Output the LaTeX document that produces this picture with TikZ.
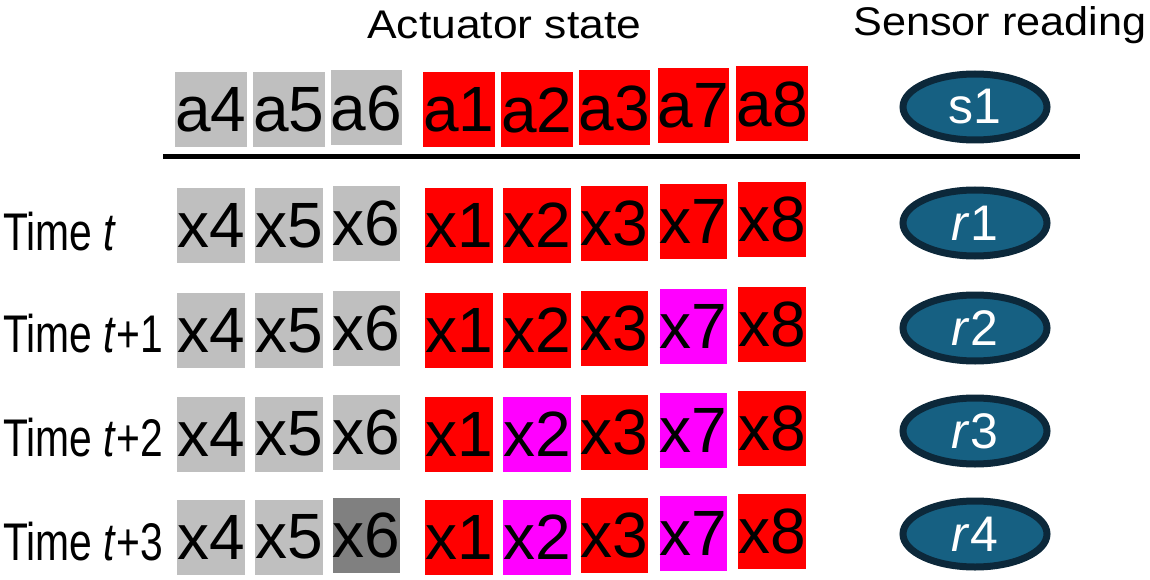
\documentclass[tikz,border=0pt]{standalone}
\usepackage{fontspec}
\setmainfont{Liberation Sans}
\usetikzlibrary{shapes.geometric}
\definecolor{boxgray}{RGB}{191,191,191}
\definecolor{boxdark}{RGB}{128,128,128}
\definecolor{boxred}{RGB}{255,0,0}
\definecolor{boxmag}{RGB}{255,0,255}
\definecolor{ellfill}{RGB}{22,96,130}
\definecolor{elldraw}{RGB}{12,40,58}
\begin{document}
\begin{tikzpicture}[x=1pt,y=-1pt,
  cell/.style={rectangle, minimum width=67pt, minimum height=75pt, inner sep=0pt, font=\fontsize{64}{70}\selectfont},
  gr/.style={cell, fill=boxgray},
  dg/.style={cell, fill=boxdark},
  rd/.style={cell, fill=boxred},
  mg/.style={cell, fill=boxmag},
  sensor/.style={ellipse, fill=ellfill, draw=elldraw, line width=7pt, minimum width=144pt, minimum height=66pt, inner sep=0pt, text=white, font=\fontsize{50}{56}\selectfont},
  timelab/.style={anchor=base west, inner sep=0pt, font=\fontsize{53}{58}\selectfont},
  header/.style={anchor=base west, inner sep=0pt, font=\fontsize{40}{46}\selectfont}
]
\useasboundingbox (0,0) rectangle (1150,580);

% headers
\node[header] (hact) at (367,39) {\scalebox{1.11}[1]{Actuator state}};
\node[header] (hsen) at (853,36) {\scalebox{1.08}[1]{Sensor reading}};

% top row
\foreach \l/\cx/\dy/\s in {4/211/0/gr, 5/289/0/gr, 6/366.5/-2/gr, 1/459/0/rd, 2/537/0/rd, 3/614.5/-2/rd, 7/693.5/-4/rd, 8/772/-6/rd}
  \node[\s] (a\l) at (\cx,{110+\dy}) {a\l};
\node[sensor] (s1) at (975,107) {s1};

% separator
\coordinate (lineL) at (163,157);
\coordinate (lineR) at (1080,157);
\draw[line width=5pt] (lineL) -- (lineR);

% time t
\node[timelab] (lt0) at (3,250) {\scalebox{0.77}[1]{Time \textit{t}}};
\foreach \l/\cx/\dy/\s in {4/211/0/gr, 5/289/0/gr, 6/366.5/-2/gr, 1/459/0/rd, 2/537/0/rd, 3/614.5/-2/rd, 7/693.5/-4/rd, 8/772/-6/rd}
  \node[\s] (r0x\l) at (\cx,{225.5+\dy}) {x\l};
\node[sensor] (e1) at (975,223) {\textit{r}1};

% time t+1
\node[timelab] (lt1) at (3,352) {\scalebox{0.77}[1]{Time \textit{t}+1}};
\foreach \l/\cx/\dy/\s in {4/211/0/gr, 5/289/0/gr, 6/366.5/-2/gr, 1/459/0/rd, 2/537/0/rd, 3/614.5/-2/rd, 7/693.5/-4/mg, 8/772/-6/rd}
  \node[\s] (r1x\l) at (\cx,{330.5+\dy}) {x\l};
\node[sensor] (e2) at (975,328) {\textit{r}2};

% time t+2
\node[timelab] (lt2) at (3,456) {\scalebox{0.77}[1]{Time \textit{t}+2}};
\foreach \l/\cx/\dy/\s in {4/211/0/gr, 5/289/0/gr, 6/366.5/-2/gr, 1/459/0/rd, 2/537/0/mg, 3/614.5/-2/rd, 7/693.5/-4/mg, 8/772/-6/rd}
  \node[\s] (r2x\l) at (\cx,{434+\dy}) {x\l};
\node[sensor] (e3) at (975,431) {\textit{r}3};

% time t+3
\node[timelab] (lt3) at (3,560) {\scalebox{0.77}[1]{Time \textit{t}+3}};
\foreach \l/\cx/\dy/\s in {4/211/0/gr, 5/289/0/gr, 6/366.5/-2/dg, 1/459/0/rd, 2/537/0/mg, 3/614.5/-2/rd, 7/693.5/-4/mg, 8/772/-6/rd}
  \node[\s] (r3x\l) at (\cx,{537+\dy}) {x\l};
\node[sensor] (e4) at (975,534) {\textit{r}4};
\end{tikzpicture}
\end{document}
